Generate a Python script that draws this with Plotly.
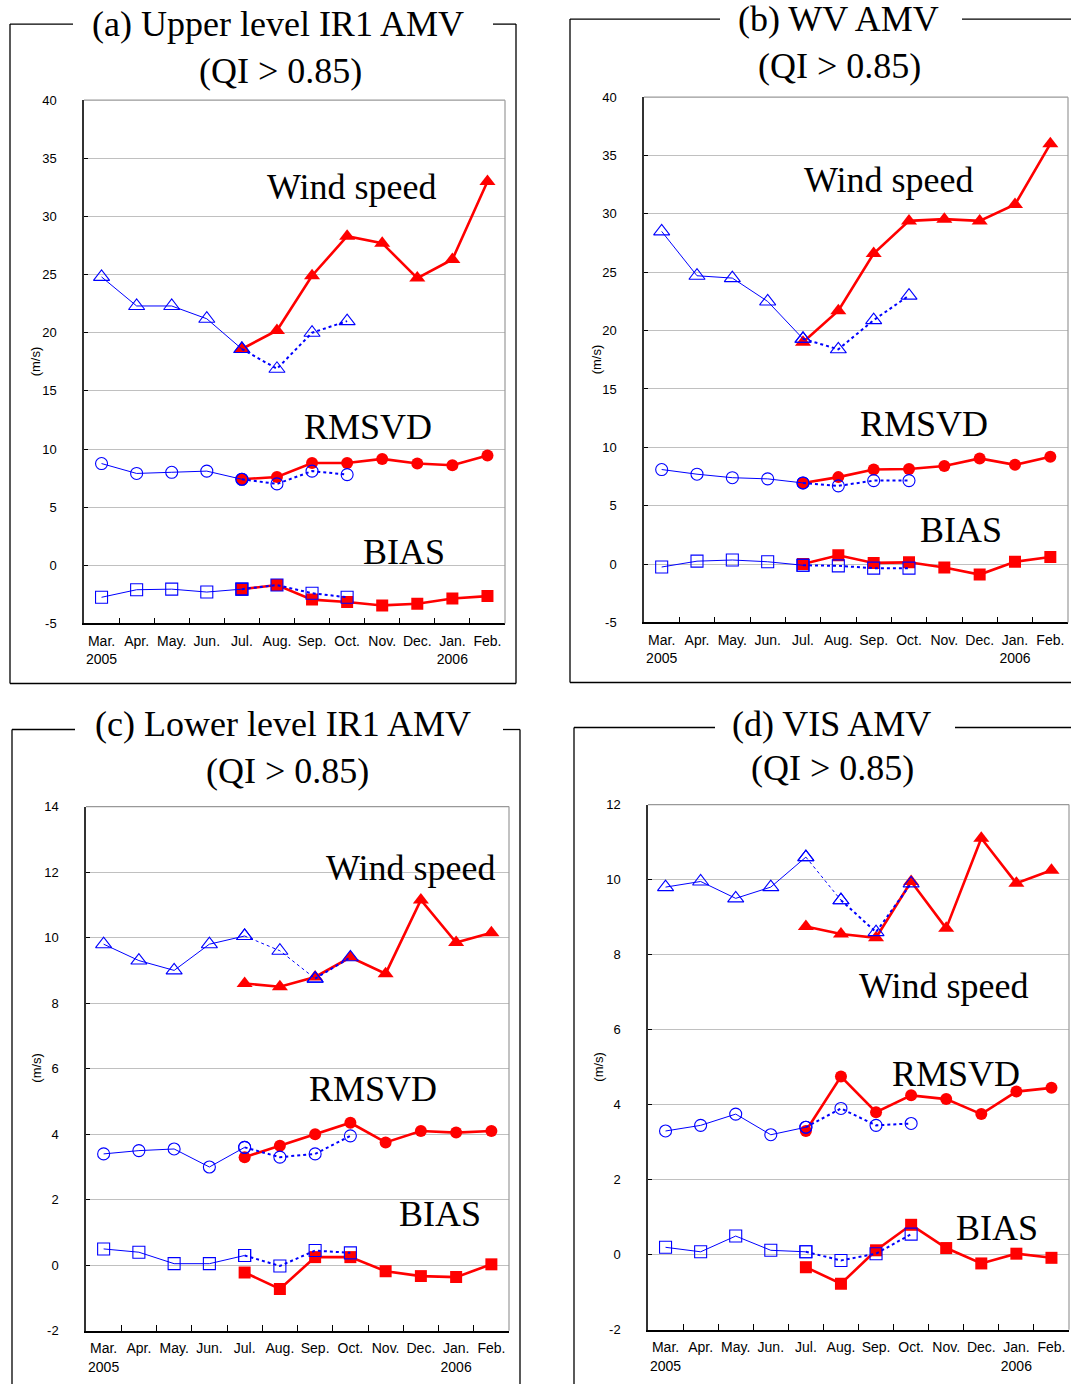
import plotly.graph_objects as go

W, H = 1071, 1384

months = ["Mar.", "Apr.", "May.", "Jun.", "Jul.", "Aug.", "Sep.", "Oct.", "Nov.", "Dec.", "Jan.", "Feb."]
tick_text = ["Mar.<br>2005", "Apr.", "May.", "Jun.", "Jul.", "Aug.", "Sep.", "Oct.", "Nov.", "Dec.", "Jan.<br>2006", "Feb."]
blue_months = months[:8]   # Mar..Oct
red_months = months[4:]    # Jul..Feb

# (a) Upper level IR1 AMV
a_ws_blue = [24.8, 22.3, 22.3, 21.2, 18.6, 16.9, 20.0, 21.0]
a_ws_red = [18.6, 20.2, 24.9, 28.3, 27.7, 24.7, 26.3, 33.0]
a_rms_blue = [8.75, 7.9, 8.0, 8.1, 7.4, 7.0, 8.1, 7.8]
a_rms_red = [7.4, 7.6, 8.8, 8.8, 9.15, 8.75, 8.6, 9.45]
a_bias_blue = [-2.75, -2.1, -2.05, -2.3, -2.05, -1.7, -2.4, -2.75]
a_bias_red = [-2.05, -1.7, -2.95, -3.15, -3.45, -3.3, -2.85, -2.65]

# (b) WV AMV
b_ws_blue = [28.5, 24.7, 24.5, 22.5, 19.3, 18.4, 20.9, 23.0]
b_ws_red = [19.0, 21.7, 26.6, 29.4, 29.55, 29.4, 30.8, 36.0]
b_rms_blue = [8.1, 7.7, 7.4, 7.3, 6.95, 6.7, 7.15, 7.15]
b_rms_red = [6.95, 7.45, 8.1, 8.15, 8.4, 9.05, 8.5, 9.2]
b_bias_blue = [-0.25, 0.25, 0.35, 0.2, -0.1, -0.15, -0.35, -0.35]
b_bias_red = [0.0, 0.75, 0.1, 0.15, -0.3, -0.9, 0.2, 0.6]

# (c) Lower level IR1 AMV
c_ws_blue = [9.8, 9.3, 9.0, 9.8, 10.05, 9.6, 8.75, 9.4]
c_ws_red = [8.6, 8.5, 8.8, 9.4, 8.9, 11.15, 9.85, 10.15]
c_rms_blue = [3.4, 3.5, 3.55, 3.0, 3.6, 3.3, 3.4, 3.95]
c_rms_red = [3.3, 3.65, 4.0, 4.35, 3.75, 4.1, 4.05, 4.1]
c_bias_blue = [0.5, 0.4, 0.05, 0.05, 0.3, -0.02, 0.45, 0.38]
c_bias_red = [-0.22, -0.72, 0.25, 0.25, -0.18, -0.33, -0.36, 0.03]

# (d) VIS AMV
d_ws_blue = [9.8, 9.95, 9.5, 9.8, 10.6, 9.45, 8.6, 9.9]
d_ws_red = [8.75, 8.55, 8.45, 9.95, 8.7, 11.1, 9.9, 10.25]
d_rms_blue = [3.3, 3.45, 3.75, 3.2, 3.4, 3.9, 3.45, 3.5]
d_rms_red = [3.3, 4.75, 3.8, 4.25, 4.15, 3.75, 4.35, 4.45]
d_bias_blue = [0.2, 0.08, 0.5, 0.12, 0.08, -0.15, 0.03, 0.55]
d_bias_red = [-0.33, -0.77, 0.12, 0.8, 0.18, -0.23, 0.03, -0.08]

titles = ["(a) Upper level IR1 AMV", "(b) WV AMV", "(c) Lower level IR1 AMV", "(d) VIS AMV"]
subtitle = "(QI > 0.85)"
y_ticks_ab = [-5, 0, 5, 10, 15, 20, 25, 30, 35, 40]
y_ticks_c = [-2, 0, 2, 4, 6, 8, 10, 12, 14]
y_ticks_d = [-2, 0, 2, 4, 6, 8, 10, 12]

def px(x):
    return x / W

def py(y):
    # compensate the small vertical offset/scale observed in the photographed page
    yd = (y - 7.9) / 0.9886
    return 1 - yd / H

panels = [
    dict(xd=(84, 505), yd=(101, 624), yr=(-5, 40), yt=y_ticks_ab, thin=0,
         data=[(a_ws_blue, a_ws_red, "triangle-up"), (a_rms_blue, a_rms_red, "circle"), (a_bias_blue, a_bias_red, "square")],
         frame=(10, 25, 516, 684), gap=(73, 493), title=(278, 25), sub=(280, 72), ylab=(35, 362),
         labels=[("Wind speed", 352, 188), ("RMSVD", 368, 428), ("BIAS", 404, 553)]),
    dict(xd=(644, 1068), yd=(98, 623), yr=(-5, 40), yt=y_ticks_ab, thin=0,
         data=[(b_ws_blue, b_ws_red, "triangle-up"), (b_rms_blue, b_rms_red, "circle"), (b_bias_blue, b_bias_red, "square")],
         frame=(570, 20, 1080, 683), gap=(720, 962), title=(838, 20), sub=(839, 67), ylab=(596, 360),
         labels=[("Wind speed", 889, 181), ("RMSVD", 924, 425), ("BIAS", 961, 531)]),
    dict(xd=(86, 509), yd=(807, 1331), yr=(-2, 14), yt=y_ticks_c, thin=2,
         data=[(c_ws_blue, c_ws_red, "triangle-up"), (c_rms_blue, c_rms_red, "circle"), (c_bias_blue, c_bias_red, "square")],
         frame=(12, 730, 520, 1420), gap=(75, 503), title=(283, 724), sub=(287, 771), ylab=(37, 1068),
         labels=[("Wind speed", 411, 868), ("RMSVD", 373, 1089), ("BIAS", 440, 1214)]),
    dict(xd=(648, 1069), yd=(805, 1330), yr=(-2, 12), yt=y_ticks_d, thin=1,
         data=[(d_ws_blue, d_ws_red, "triangle-up"), (d_rms_blue, d_rms_red, "circle"), (d_bias_blue, d_bias_red, "square")],
         frame=(574, 728, 1080, 1420), gap=(715, 955), title=(831, 724), sub=(832, 768), ylab=(599, 1067),
         labels=[("Wind speed", 944, 986), ("RMSVD", 956, 1074), ("BIAS", 997, 1228)]),
]

BLUE = "#0000ff"
RED = "#ff0000"
MSIZE = {"triangle-up": 14, "circle": 12, "square": 12}

fig = go.Figure()
shapes = []
annotations = []
layout = {}

for i, p in enumerate(panels):
    n = "" if i == 0 else str(i + 1)
    xa, ya = "x" + n, "y" + n
    for blue, red, sym in p["data"]:
        msz = MSIZE[sym]
        opm = dict(symbol=sym + "-open", size=msz, color=BLUE, line=dict(width=1.1))
        # red (after change), drawn first
        fig.add_trace(go.Scatter(x=red_months, y=red, mode="lines+markers", xaxis=xa, yaxis=ya,
                                 line=dict(color=RED, width=2.6),
                                 marker=dict(symbol=sym, size=msz, color=RED), showlegend=False))
        # blue solid (Mar-Jul)
        fig.add_trace(go.Scatter(x=blue_months[:5], y=blue[:5], mode="lines+markers", xaxis=xa, yaxis=ya,
                                 line=dict(color=BLUE, width=1), marker=opm, showlegend=False))
        # blue dotted (Jul-Oct); some wind speed segments are thin dotted
        k = 4 + (p["thin"] if sym == "triangle-up" else 0)
        if k > 4:
            fig.add_trace(go.Scatter(x=blue_months[4:k + 1], y=blue[4:k + 1], mode="lines+markers", xaxis=xa, yaxis=ya,
                                     line=dict(color=BLUE, width=1, dash="dot"), marker=opm, showlegend=False))
        fig.add_trace(go.Scatter(x=blue_months[k:], y=blue[k:], mode="lines+markers", xaxis=xa, yaxis=ya,
                                 line=dict(color=BLUE, width=2, dash="dot"), marker=opm, showlegend=False))

    layout["xaxis" + n] = dict(
        domain=[px(p["xd"][0]), px(p["xd"][1])], anchor=ya, type="category",
        categoryorder="array", categoryarray=months, range=[-0.5, 11.5],
        tickmode="array", tickvals=months, ticktext=tick_text, tickson="boundaries",
        ticks="inside", ticklen=6, tickcolor="#000000", tickwidth=1, tickangle=0,
        ticklabelstandoff=4,
        showline=True, linecolor="#000000", linewidth=1.5, showgrid=False, zeroline=False,
        tickfont=dict(family="Liberation Sans, Arial", size=14, color="#000000"),
    )
    layout["yaxis" + n] = dict(
        domain=[py(p["yd"][1]), py(p["yd"][0])], anchor=xa,
        range=list(p["yr"]), tickmode="array", tickvals=p["yt"], ticktext=[str(v) for v in p["yt"]],
        ticks="inside", ticklen=4, tickcolor="#000000",
        showline=True, linecolor="#333333", linewidth=1.5,
        showgrid=True, gridcolor="#c0c0c0", gridwidth=1, zeroline=False,
        ticklabelstandoff=23,
        tickfont=dict(family="Liberation Sans, Arial", size=13, color="#000000"),
    )
    # top and right border of plot area (gray)
    shapes.append(dict(type="line", xref=xa + " domain", yref=ya + " domain", x0=0, x1=1, y0=1, y1=1,
                       line=dict(color="#999999", width=1.2)))
    shapes.append(dict(type="line", xref=xa + " domain", yref=ya + " domain", x0=1, x1=1, y0=0, y1=1,
                       line=dict(color="#999999", width=1.2)))
    # outer frame with gap for title
    fx0, fy0, fx1, fy1 = p["frame"]
    g0, g1 = p["gap"]
    fl = dict(color="#000000", width=1.3)
    for (x0, y0, x1, y1) in [(fx0, fy0, fx0, fy1), (fx1, fy0, fx1, fy1), (fx0, fy1, fx1, fy1),
                             (fx0, fy0, g0, fy0), (g1, fy0, fx1, fy0)]:
        shapes.append(dict(type="line", xref="paper", yref="paper", x0=px(x0), x1=px(x1), y0=py(y0), y1=py(y1), line=fl))
    serif = dict(family="Liberation Serif, Times New Roman", size=36, color="#000000")
    annotations.append(dict(text=titles[i], x=px(p["title"][0]), y=py(p["title"][1]), xref="paper", yref="paper",
                            showarrow=False, xanchor="center", yanchor="middle", font=serif))
    annotations.append(dict(text=subtitle, x=px(p["sub"][0]), y=py(p["sub"][1]), xref="paper", yref="paper",
                            showarrow=False, xanchor="center", yanchor="middle", font=serif))
    for txt, lx, ly in p["labels"]:
        annotations.append(dict(text=txt, x=px(lx), y=py(ly), xref="paper", yref="paper",
                                showarrow=False, xanchor="center", yanchor="middle", font=serif))
    annotations.append(dict(text="(m/s)", x=px(p["ylab"][0]), y=py(p["ylab"][1]), xref="paper", yref="paper",
                            showarrow=False, xanchor="center", yanchor="middle", textangle=-90,
                            font=dict(family="Liberation Sans, Arial", size=13, color="#000000")))

fig.update_layout(
    width=W, height=H, autosize=False,
    margin=dict(l=0, r=0, t=0, b=0),
    paper_bgcolor="white", plot_bgcolor="white",
    showlegend=False, shapes=shapes, annotations=annotations,
    **layout,
)

post = (
    "document.documentElement.style.margin='0';"
    "document.documentElement.style.padding='0';"
    "document.documentElement.style.overflow='hidden';"
    "document.body.style.margin='0';"
    "document.body.style.padding='0';"
    "document.body.style.overflow='hidden';"
    "var g=document.getElementById('{plot_id}');"
    "g.style.position='fixed';g.style.left='0px';g.style.top='0px';"
)

fig.write_html("out.html", config={"displayModeBar": False}, post_script=post)
